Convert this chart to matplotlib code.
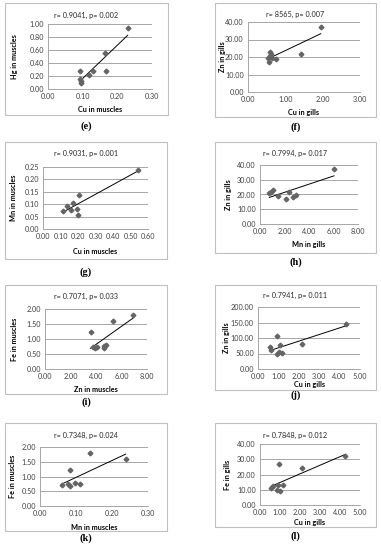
import numpy as np
import matplotlib.pyplot as plt
from matplotlib.patches import Rectangle

# (e) Cu vs Hg in muscles
e_x = [0.230, 0.163, 0.167, 0.130, 0.118, 0.092, 0.093, 0.095, 0.096]
e_y = [0.94, 0.55, 0.27, 0.28, 0.21, 0.27, 0.16, 0.13, 0.10]
# (f) Cu vs Zn in gills
f_x = [1.95, 1.42, 0.74, 0.59, 0.61, 0.59, 0.54, 0.56, 0.63]
f_y = [37.2, 21.9, 18.9, 22.8, 21.7, 20.4, 19.6, 17.0, 19.6]
# (g) Cu vs Mn in muscles
g_x = [0.544, 0.206, 0.174, 0.136, 0.112, 0.161, 0.193, 0.199]
g_y = [0.238, 0.136, 0.106, 0.093, 0.074, 0.076, 0.079, 0.057]
# (h) Mn vs Zn in gills
h_x = [6.04, 1.03, 0.89, 0.76, 1.44, 2.38, 2.09, 2.66, 2.90]
h_y = [37.4, 23.2, 21.9, 20.8, 19.2, 21.9, 16.9, 18.5, 19.4]
# (i) Zn vs Fe in muscles
i_x = [6.90, 5.33, 3.57, 3.75, 3.94, 4.07, 4.65, 4.80, 4.59]
i_y = [1.79, 1.61, 1.24, 0.75, 0.69, 0.73, 0.77, 0.79, 0.69]
# (j) Cu vs Zn in gills
j_x = [4.30, 2.15, 0.95, 1.07, 0.57, 0.66, 0.95, 1.03, 1.20]
j_y = [146.5, 81, 107, 76, 72, 61, 49, 55, 51]
# (k) Mn vs Fe in muscles
k_x = [0.140, 0.238, 0.083, 0.060, 0.078, 0.083, 0.097, 0.111]
k_y = [1.80, 1.60, 1.23, 0.72, 0.73, 0.67, 0.79, 0.73]
# (l) Cu vs Fe in gills
l_x = [4.23, 2.10, 0.93, 0.90, 1.13, 0.57, 0.67, 0.87, 1.00]
l_y = [31.9, 24.2, 26.8, 13.4, 13.0, 11.4, 12.3, 9.9, 9.2]

titles = ["r= 0.9041, p= 0.002", "r= 8565, p= 0.007", "r= 0.9031, p= 0.001",
          "r= 0.7994, p= 0.017", "r= 0.7071, p= 0.033", "r= 0.7941, p= 0.011",
          "r= 0.7348, p= 0.024", "r= 0.7848, p= 0.012"]
xlabels = ["Cu in muscles", "Cu in gills", "Cu in muscles", "Mn in gills",
           "Zn in muscles", "Cu in gills", "Mn in muscles", "Cu in gills"]
ylabels = ["Hg in muscles", "Zn in gills", "Mn in muscles", "Zn in gills",
           "Fe in muscles", "Zn in gills", "Fe in muscles", "Fe in gills"]
tags = ["(e)", "(f)", "(g)", "(h)", "(i)", "(j)", "(k)", "(l)"]
xticks = [[0, 0.1, 0.2, 0.3], [0, 1, 2, 3], [0, 0.1, 0.2, 0.3, 0.4, 0.5, 0.6],
          [0, 2, 4, 6, 8], [0, 2, 4, 6, 8], [0, 1, 2, 3, 4, 5],
          [0, 0.1, 0.2, 0.3], [0, 1, 2, 3, 4, 5]]
yticks = [[0, 0.2, 0.4, 0.6, 0.8, 1.0], [0, 10, 20, 30, 40],
          [0, 0.05, 0.1, 0.15, 0.2, 0.25], [0, 10, 20, 30, 40],
          [0, 0.5, 1.0, 1.5, 2.0], [0, 50, 100, 150, 200],
          [0, 0.5, 1.0, 1.5, 2.0], [0, 10, 20, 30, 40]]
xs = [e_x, f_x, g_x, h_x, i_x, j_x, k_x, l_x]
ys = [e_y, f_y, g_y, h_y, i_y, j_y, k_y, l_y]

# layout in pixels: box (l, t, r, b), axes (l, t, r, b), title y, ylabel x, xlabel y, tag y
W, H = 381, 550
boxes = [(5, 3, 168, 115), (215, 3, 376, 117), (5, 142, 167, 259), (215, 142, 376, 253),
         (5, 285, 167, 394), (215, 285, 376, 390), (5, 423, 167, 531), (215, 423, 376, 527)]
areas = [(48, 24, 152, 89), (248, 22, 360, 92), (43, 167, 148, 229), (260, 165, 358, 224),
         (45, 309, 147, 369), (258, 307, 360, 369), (40, 447, 148, 506), (260, 444, 360, 505)]
title_y = [15, 14, 153, 153, 296, 295, 435, 435]
ylab_x = [15, 223, 14, 228, 14, 227, 13, 228]
xlab_y = [109, 112, 252, 245, 389, 385, 527, 522]
tag_y = [126, 127, 272, 262, 402, 395, 538, 536]

plt.rcParams['font.family'] = ['Lato', 'DejaVu Sans']
fig = plt.figure(figsize=(W / 100, H / 100), dpi=100)

for n in range(8):
    bl, bt, br, bb = boxes[n]
    fig.patches.append(Rectangle((bl / W, 1 - bb / H), (br - bl) / W, (bb - bt) / H,
                                 transform=fig.transFigure, fill=False,
                                 edgecolor="#bfbfbf", lw=0.8))
    al, at, ar, ab = areas[n]
    ax = fig.add_axes([al / W, 1 - ab / H, (ar - al) / W, (ab - at) / H])

    x = np.array(xs[n])
    y = np.array(ys[n])
    ax.plot(x, y, "D", color="#646464", markersize=2.4, zorder=3)
    k, b = np.polyfit(x, y, 1)
    xl = np.array([x.min(), x.max()])
    ax.plot(xl, k * xl + b, color="black", lw=0.7, zorder=2)

    ax.set_xlim(xticks[n][0], xticks[n][-1])
    ax.set_ylim(yticks[n][0], yticks[n][-1])
    ax.set_xticks(xticks[n])
    ax.set_yticks(yticks[n])
    ax.set_xticklabels([f"{v:.2f}" for v in xticks[n]])
    ax.set_yticklabels([f"{v:.2f}" for v in yticks[n]])
    ax.tick_params(labelsize=5.2, colors="#404040", length=0, pad=3)
    ax.grid(axis="y", color="#a6a6a6", lw=0.7)
    ax.set_axisbelow(True)
    for s in ["top", "right"]:
        ax.spines[s].set_visible(False)
    for s in ["left", "bottom"]:
        ax.spines[s].set_color("#a6a6a6")
        ax.spines[s].set_linewidth(0.7)

    ax.set_xlabel(xlabels[n], fontsize=5.2, fontweight="bold")
    ax.set_ylabel(ylabels[n], fontsize=5.2, fontweight="bold")
    ax.xaxis.set_label_coords(0.5, -(xlab_y[n] - ab) / (ab - at))
    ax.yaxis.set_label_coords(-(al - ylab_x[n]) / (ar - al), 0.5)
    ax.xaxis.label.set_va("center")
    ax.yaxis.label.set_va("center")

    cx = (bl + br) / 2 / W
    fig.text(cx, 1 - title_y[n] / H, titles[n], fontsize=5.2, ha="center", va="center", color="#262626")
    fig.text(cx, 1 - tag_y[n] / H, tags[n], fontsize=7.5, fontweight="bold",
             family="Liberation Serif", ha="center", va="center")

fig.savefig("out.png", dpi=100)
